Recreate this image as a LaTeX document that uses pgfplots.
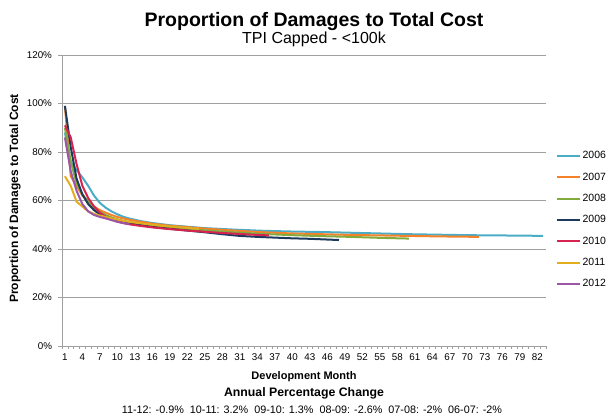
\documentclass[border=0pt]{standalone}
\usepackage{pgfplots}
\pgfplotsset{compat=1.18}
\usepackage{fontspec}
\setmainfont{Liberation Sans}

\definecolor{c2006}{HTML}{4BACC6}
\definecolor{c2007}{HTML}{F5822A}
\definecolor{c2008}{HTML}{82AA3C}
\definecolor{c2009}{HTML}{1C3A5E}
\definecolor{c2010}{HTML}{D7234F}
\definecolor{c2011}{HTML}{E2AE1E}
\definecolor{c2012}{HTML}{9B56A8}
\definecolor{axgray}{HTML}{A0A0A0}

\begin{document}
\begin{tikzpicture}
% page size: 608 x 417, axis origin at pixel (62,346)
\path[use as bounding box] (-62pt,-71pt) rectangle (546pt,346pt);
\begin{axis}[
    at={(0,0)}, anchor=south west,
    scale only axis,
    width=484pt, height=291pt,
    xmin=0.5, xmax=83.5,
    ymin=0, ymax=120,
    xtick={1,4,...,82},
    minor xtick={0.5,1.5,...,83.5},
    ytick={0,20,...,120},
    yticklabel={\pgfmathprintnumber{\tick}\%},
    /pgf/number format/assume math mode=true,
    ymajorgrids=true,
    grid style={axgray, line width=0.8pt},
    axis x line*=bottom,
    axis y line*=left,
    axis line style={axgray, line width=0.8pt, -},
    tick style={axgray, line width=0.6pt},
    tick align=outside,
    major tick length=3.5pt,
    minor tick length=3.5pt,
    major x tick style={draw=none},
    xticklabel style={font=\fontsize{9.8}{11}\selectfont, yshift=-1pt},
    yticklabel style={font=\fontsize{9.8}{11}\selectfont, xshift=-3pt},
    legend style={at={(1.02,0.433)}, anchor=west, draw=none, fill=none,
        font=\fontsize{10.5}{11}\selectfont, row sep=8.5pt, inner sep=0pt},
    legend cell align=left,
    legend image code/.code={\draw[#1, line width=2pt] (0cm,0cm) -- (0.8cm,0cm);},
    clip=false,
]
\addplot[c2006, line width=2pt] coordinates {(1,88)(2,76)(3,72.5)(4,69.5)(5,66)(6,62)(7,59)(8,57)(9,55.5)(10,54.3)(11,53.3)(12,52.6)(14,51.5)(16,50.7)(19,49.8)(22,49.2)(25,48.6)(30,48)(35,47.5)(40,47.2)(45,47)(50,46.7)(55,46.4)(60,46.1)(65,45.9)(70,45.7)(75,45.6)(80,45.5)(83,45.4)};
\addlegendentry{2006}
\addplot[c2007, line width=2pt] coordinates {(1,99)(2,70)(3,66)(4,62)(5,59.5)(6,57.5)(7,56)(8,55)(9,54)(10,53.2)(11,52.6)(12,52.1)(14,51.2)(16,50.4)(19,49.6)(22,49)(25,48.4)(30,47.6)(35,46.9)(40,46.4)(45,46.1)(50,45.8)(55,45.6)(60,45.4)(65,45.2)(72,45)};
\addlegendentry{2007}
\addplot[c2008, line width=2pt] coordinates {(1,90)(2,76)(3,67)(4,62.5)(5,59.5)(6,57)(7,55.3)(8,54)(9,53)(10,52.2)(11,51.6)(12,51.1)(14,50.3)(16,49.6)(19,48.9)(22,48.2)(25,47.7)(30,46.9)(35,46.2)(40,45.7)(45,45.3)(50,45)(55,44.6)(60,44.3)};
\addlegendentry{2008}
\addplot[c2009, line width=2pt] coordinates {(1,99)(2,82)(3,69)(4,62.5)(5,58.5)(6,56)(7,54.3)(8,53.2)(9,52.3)(10,51.6)(11,51)(12,50.5)(14,49.8)(16,49.1)(19,48.3)(22,47.6)(25,46.9)(28,46.1)(31,45.4)(34,45)(37,44.7)(40,44.4)(43,44.2)(46,43.9)(48,43.7)};
\addlegendentry{2009}
\addplot[c2010, line width=2pt] coordinates {(1,91)(2,86)(3,75)(4,66)(5,61)(6,57.5)(7,55)(8,53.3)(9,52.2)(10,51.3)(11,50.7)(12,50.2)(14,49.5)(16,48.9)(19,48.2)(22,47.6)(25,47.1)(28,46.6)(31,46.2)(34,45.8)(36,45.6)};
\addlegendentry{2010}
\addplot[c2011, line width=2pt] coordinates {(1,70)(2,66)(3,59.5)(4,57.5)(5,55.5)(6,54.5)(7,53.8)(8,53.2)(9,52.6)(10,52.1)(11,51.6)(12,51.2)(14,50.6)(16,50)(18,49.5)(20,49.1)(22,48.7)(24,48.3)};
\addlegendentry{2011}
\addplot[c2012, line width=2pt] coordinates {(1,86)(2,72)(3,64)(4,58.5)(5,55.5)(6,54)(7,53.2)(8,52.6)(9,51.9)(10,51.2)(11,50.7)(12,50.3)};
\addlegendentry{2012}
\end{axis}
\node[font=\bfseries\fontsize{19.5}{22}\selectfont, anchor=base] at (252pt,319pt) {Proportion of Damages to Total Cost};
\node[font=\fontsize{16}{18}\selectfont, anchor=base] at (252pt,302pt) {TPI Capped - <100k};
\node[font=\bfseries\fontsize{12}{13}\selectfont, rotate=90] at (-47pt,147.5pt) {Proportion of Damages to Total Cost};
\node[font=\bfseries\fontsize{11}{12}\selectfont, anchor=base] at (242pt,-34pt) {Development Month};
\node[font=\bfseries\fontsize{12.3}{13}\selectfont, anchor=base] at (242pt,-51pt) {Annual Percentage Change};
\node[font=\fontsize{10.8}{12}\selectfont, anchor=base] at (250pt,-68pt) {11-12: -0.9\%\ \ 10-11: 3.2\%\ \ 09-10: 1.3\%\ \ 08-09: -2.6\%\ \ 07-08: -2\%\ \ 06-07: -2\%};
\end{tikzpicture}
\end{document}
